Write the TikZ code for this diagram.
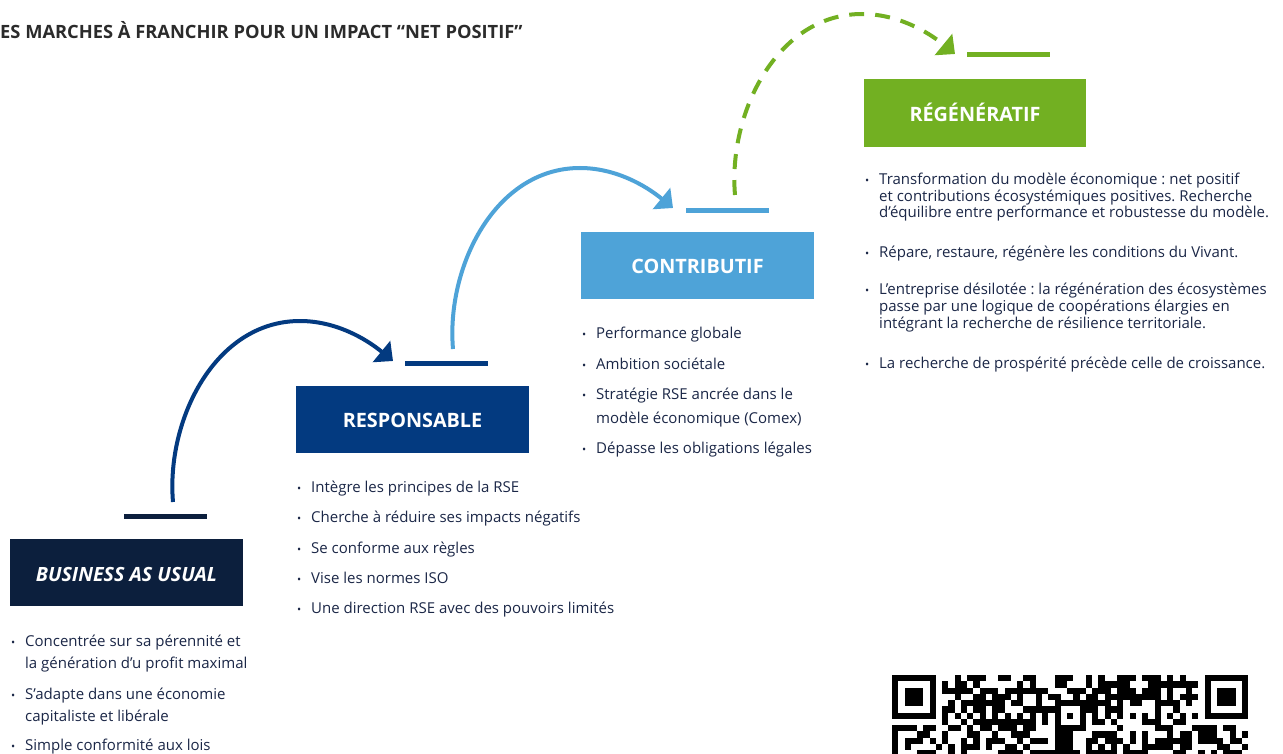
\documentclass[tikz,border=0pt]{standalone}
\usepackage{fontspec}
\setmainfont{Open Sans}
\usetikzlibrary{arrows.meta,calc}
\definecolor{navy}{HTML}{0C1F3D}
\definecolor{resp}{HTML}{033A80}
\definecolor{contr}{HTML}{4EA3D8}
\definecolor{regen}{HTML}{72B022}
\definecolor{bodytxt}{HTML}{1B2747}
\definecolor{titletxt}{HTML}{2B2B2B}
\newcommand\qrcell[2]{\fill[black] ({892+#2*6.25},{675+#1*6.25}) rectangle ++(6.3,6.3);}
\frenchspacing
\begin{document}
\begin{tikzpicture}[x=1pt,y=-1pt,
  stepbox/.style={rectangle, inner sep=0pt, minimum width=233pt, minimum height=67pt, text=white, text height=17pt, text depth=0pt, font=\fontsize{19.8}{22}\selectfont\bfseries},
  bar/.style={rectangle, inner sep=0pt, minimum width=83pt, minimum height=5pt},
  txt/.style={anchor=base west, inner sep=0pt, text=bodytxt, font=\fontsize{15}{16}\selectfont},
  rtxt/.style={txt},
  bul/.style={anchor=base west, inner sep=0pt, text=bodytxt, font=\fontsize{11}{12}\selectfont},
  arc/.style={line width=4pt, -{Triangle[length=15pt,width=27pt]}},
]
\useasboundingbox (0,0) rectangle (1283,754);
\fill[white] (0,0) rectangle (1283,754);

% title
\node[anchor=base west, inner sep=0pt, text=titletxt, font=\fontsize{18.3}{20}\selectfont\bfseries] (title) at (0,39) {ES MARCHES À FRANCHIR POUR UN IMPACT “NET POSITIF”};

% boxes
\node[stepbox, fill=navy, font=\fontsize{19.6}{22}\selectfont\bfseries\itshape] (bau) at (126.5,572.5) {BUSINESS AS USUAL};
\node[stepbox, fill=resp] (respbox) at (412.5,419) {RESPONSABLE};
\node[stepbox, fill=contr] (contrbox) at (697.5,265.5) {CONTRIBUTIF};
\node[stepbox, fill=regen, minimum width=222pt, minimum height=68pt] (regenbox) at (975,113) {RÉGÉNÉRATIF};

% bars
\node[bar, fill=navy] (bar1) at (165,516.5) {};
\node[bar, fill=resp] (bar2) at (446,363.5) {};
\node[bar, fill=contr] (bar3) at (727.5,210.5) {};
\node[bar, fill=regen] (bar4) at (1008.5,54.5) {};

% arcs
\coordinate (s1) at (173,502); \coordinate (t1) at (300,321); \coordinate (e1) at (393,361);
\coordinate (s2) at (453,349); \coordinate (t2) at (580,168); \coordinate (e2) at (673,208);
\coordinate (s3) at (735,195); \coordinate (t3) at (862,14);  \coordinate (e3) at (955,54);
\draw[arc, resp] (s1) .. controls ($(s1)+(-7,-82)$) and ($(t1)+(-85,0)$) .. (t1) .. controls ($(t1)+(35,0)$) and ($(e1)+(-28,-23)$) .. (e1);
\draw[arc, contr] (s2) .. controls ($(s2)+(-7,-82)$) and ($(t2)+(-85,0)$) .. (t2) .. controls ($(t2)+(35,0)$) and ($(e2)+(-28,-23)$) .. (e2);
\draw[arc, regen, dash pattern=on 15pt off 11pt] (s3) .. controls ($(s3)+(-7,-82)$) and ($(t3)+(-85,0)$) .. (t3) .. controls ($(t3)+(35,0)$) and ($(e3)+(-28,-23)$) .. (e3);

% BAU list
\node[bul] (b1) at (11,646) {•}; \node[txt] (l1a) at (25,646) {Concentrée sur sa pérennité et};
\node[txt] (l1b) at (25,668.5) {la génération d’u profit maximal};
\node[bul] (b2) at (11,699) {•}; \node[txt] (l2a) at (25,699) {S’adapte dans une économie};
\node[txt] (l2b) at (25,721.5) {capitaliste et libérale};
\node[bul] (b3) at (11,750) {•}; \node[txt] (l3a) at (25,750) {Simple conformité aux lois};

% Responsable list
\node[bul] (rb1) at (297,492) {•}; \node[txt] (r1) at (311,492) {Intègre les principes de la RSE};
\node[bul] (rb2) at (297,522) {•}; \node[txt] (r2) at (311,522) {Cherche à réduire ses impacts négatifs};
\node[bul] (rb3) at (297,553) {•}; \node[txt] (r3) at (311,553) {Se conforme aux règles};
\node[bul] (rb4) at (297,583) {•}; \node[txt] (r4) at (311,583) {Vise les normes ISO};
\node[bul] (rb5) at (297,613) {•}; \node[txt] (r5) at (311,613) {Une direction RSE avec des pouvoirs limités};

% Contributif list
\node[bul] (cb1) at (582,338) {•}; \node[txt] (c1) at (596,338) {Performance globale};
\node[bul] (cb2) at (582,369) {•}; \node[txt] (c2) at (596,369) {Ambition sociétale};
\node[bul] (cb3) at (582,399) {•}; \node[txt] (c3a) at (596,399) {Stratégie RSE ancrée dans le};
\node[txt] (c3b) at (596,423) {modèle économique (Comex)};
\node[bul] (cb4) at (582,453) {•}; \node[txt] (c4) at (596,453) {Dépasse les obligations légales};

% Regeneratif list
\node[bul] (gb1) at (865,184.5) {•}; \node[rtxt] (g1a) at (879,184.5) {Transformation du modèle économique : net positif};
\node[rtxt] (g1b) at (879,201.3) {et contributions écosystémiques positives. Recherche};
\node[rtxt] (g1c) at (879,218) {d’équilibre entre performance et robustesse du modèle.};
\node[bul] (gb2) at (865,257.5) {•}; \node[rtxt] (g2) at (879,257.5) {Répare, restaure, régénère les conditions du Vivant.};
\node[bul] (gb3) at (865,294.5) {•}; \node[rtxt] (g3a) at (879,294.5) {L’entreprise désilotée : la régénération des écosystèmes};
\node[rtxt] (g3b) at (879,311.3) {passe par une logique de coopérations élargies en};
\node[rtxt] (g3c) at (879,328) {intégrant la recherche de résilience territoriale.};
\node[bul] (gb4) at (865,368) {•}; \node[rtxt] (g4) at (879,368) {La recherche de prospérité précède celle de croissance.};

% QR code (partially visible)
\pgfmathsetseed{7}
\foreach \r in {0,...,12}{
  \foreach \c in {0,...,56}{
    \pgfmathrandominteger{\qb}{0}{19}
    \ifnum\qb<11
      \ifnum\r>7 \qrcell{\r}{\c}\else
        \ifnum\c<8 \else\ifnum\c>48 \else\qrcell{\r}{\c}\fi\fi
      \fi
    \fi
  }
}
\foreach \ox in {0,50}{
  \fill[black] ({892+\ox*6.25},675) rectangle ++(43.75,43.75);
  \fill[white] ({892+(\ox+1)*6.25},{675+6.25}) rectangle ++(31.25,31.25);
  \fill[black] ({892+(\ox+2)*6.25},{675+12.5}) rectangle ++(18.75,18.75);
}
\fill[white] ({892+8*6.25},{675+6*6.25}) rectangle ++(256.25,6.25);
\foreach \c in {8,10,...,48}{\qrcell{6}{\c}}
\fill[white] ({892+6*6.25},{675+8*6.25}) rectangle ++(6.25,31.25);
\foreach \r in {8,10,12}{\qrcell{\r}{6}}
\fill[black] ({892+26*6.25},{675+4*6.25}) rectangle ++(31.25,31.25);
\fill[white] ({892+27*6.25},{675+5*6.25}) rectangle ++(18.75,18.75);
\qrcell{6}{28}
\end{tikzpicture}
\end{document}
